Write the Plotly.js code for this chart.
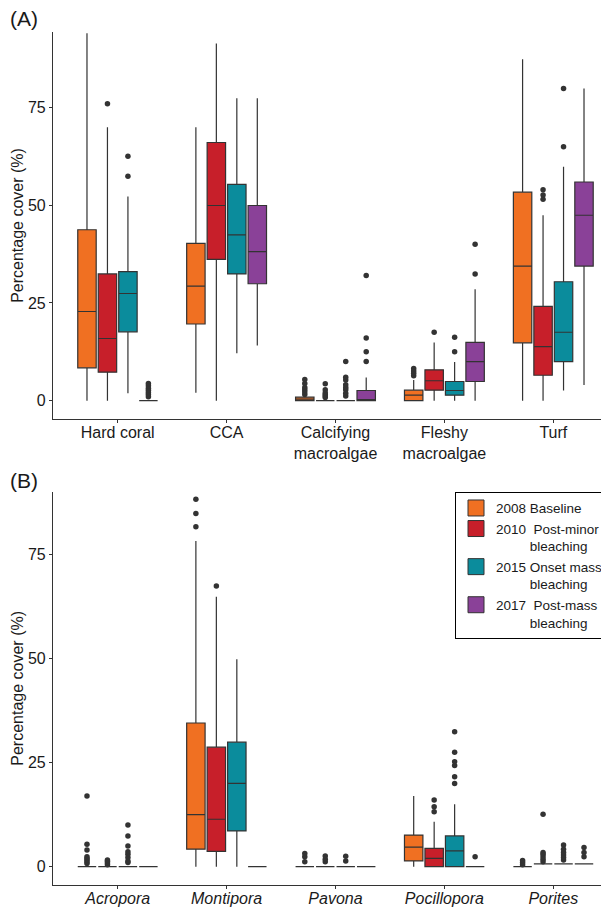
<!DOCTYPE html>
<html>
<head>
<meta charset="utf-8">
<script src="https://cdn.plot.ly/plotly-3.0.1.min.js"></script>
<style>
  html, body { margin: 0; padding: 0; background: #ffffff; }
  #chart { width: 601px; height: 908px; }
</style>
</head>
<body>
<div id="chart"></div>
<script>
// ---------- categories & series ----------
const yearNames = [
  '2008 Baseline',
  '2010\u00a0\u00a0Post-minor<br>\u00a0\u00a0\u00a0\u00a0\u00a0\u00a0\u00a0\u00a0\u00a0bleaching',
  '2015 Onset mass<br>\u00a0\u00a0\u00a0\u00a0\u00a0\u00a0\u00a0\u00a0\u00a0bleaching',
  '2017\u00a0\u00a0Post-mass<br>\u00a0\u00a0\u00a0\u00a0\u00a0\u00a0\u00a0\u00a0\u00a0bleaching'
];
const yearColors = ['#F07022', '#C71F2A', '#0B8C9C', '#8A4198'];

const catsA = ['Hard coral', 'CCA', 'Calcifying<br>macroalgae', 'Fleshy<br>macroalgae', 'Turf'];
const catsB = ['Acropora', 'Montipora', 'Pavona', 'Pocillopora', 'Porites'];
const tickTextB = catsB.map(c => '<i>' + c + '</i>');
const yTicks = [0, 25, 50, 75];

// Panel A stats, one row per year (2008, 2010, 2015, 2017), one value per category
const A_lower = [
  [0, 2.0, 0, 0, 0],
  [0, 0, 0, 0, 0],
  [1.9, 12.1, 0, 0, 2.6],
  [0, 14.1, 0, 0, 4.0]
];
const A_q1 = [
  [8.4, 19.6, 0, 0, 14.8],
  [7.3, 36.1, 0, 2.7, 6.5],
  [17.6, 32.4, 0, 1.4, 10.0],
  [0, 29.9, 0, 4.9, 34.4]
];
const A_median = [
  [22.8, 29.3, 0.4, 1.4, 34.4],
  [15.9, 49.9, 0, 5.1, 13.8],
  [27.4, 42.4, 0, 2.6, 17.5],
  [0, 38.1, 0, 10.0, 47.4]
];
const A_q3 = [
  [43.7, 40.2, 0.9, 2.7, 53.3],
  [32.4, 66.0, 0, 7.9, 24.1],
  [33.0, 55.3, 0, 4.9, 30.4],
  [0, 49.9, 2.6, 14.9, 55.9]
];
const A_upper = [
  [93.9, 69.9, 1.2, 5.3, 87.3],
  [69.9, 91.3, 0, 14.9, 47.4],
  [52.2, 77.3, 0, 9.9, 59.8],
  [0, 77.3, 5.9, 28.5, 79.8]
];
const A_outliers = [
  [[], [], [1.6, 2.2, 2.8, 3.4, 4.4, 5.4], [6.4, 7.0, 7.6, 8.2], []],
  [[75.9], [], [0.8, 1.2, 1.6, 2.0, 2.8, 4.3], [17.5], [51.5, 52.6, 53.9]],
  [[57.4, 62.5], [], [1.2, 1.9, 2.8, 3.4, 4.1, 5.3, 6.0, 10.0], [12.5, 16.2], [64.9, 79.8]],
  [[1.0, 1.6, 2.1, 2.7, 3.2, 3.8, 4.4], [], [10.0, 12.5, 16.0, 32.0], [32.4, 40.0], []]
];

// Panel B stats
const B_lower = [
  [0, 0, 0, 0, 0],
  [0, 0, 0, 0, 0.7],
  [0, 0, 0, 0, 0.7],
  [0, 0, 0, 0, 0.7]
];
const B_q1 = [
  [0, 4.2, 0, 1.4, 0],
  [0, 3.7, 0, 0, 0.7],
  [0, 8.6, 0, 0, 0.7],
  [0, 0, 0, 0, 0.7]
];
const B_median = [
  [0, 12.5, 0, 4.7, 0],
  [0, 11.4, 0, 2.0, 0.7],
  [0, 20.0, 0, 3.8, 0.7],
  [0, 0, 0, 0, 0.7]
];
const B_q3 = [
  [0, 34.5, 0, 7.6, 0],
  [0, 28.7, 0, 4.4, 0.7],
  [0, 29.9, 0, 7.4, 0.7],
  [0, 0, 0, 0, 0.7]
];
const B_upper = [
  [0, 78.2, 0, 17.0, 0],
  [0, 64.8, 0, 10.8, 0.7],
  [0, 49.8, 0, 15.0, 0.7],
  [0, 0, 0, 0, 0.7]
];
const B_outliers = [
  [[0.8, 1.2, 1.6, 2.0, 2.4, 4.0, 5.4, 17.0], [81.6, 84.8, 88.2], [1.2, 2.4, 3.2], [], [0.5, 1.0, 1.5]],
  [[0.5, 0.9, 1.3, 1.6], [67.4], [1.2, 1.8, 2.6], [13.2, 14.4, 16.0], [1.2, 1.8, 2.4, 3.0, 3.4, 12.6]],
  [[1.0, 1.4, 2.2, 3.0, 3.6, 5.0, 7.4, 10.0], [], [1.4, 2.5], [20.0, 21.6, 24.3, 25.2, 27.5, 32.4], [1.6, 2.2, 2.8, 3.4, 4.2, 5.2]],
  [[], [], [], [2.4], [2.4, 3.4, 4.6]]
];

// ---------- build traces ----------
const FONT = 'Liberation Sans, Arial, Helvetica, sans-serif';
const traces = [];

// an empty outlier list is passed as [null] so Plotly keeps the 2-D sample layout
function samples(list) { return list.map(l => (l.length ? l : [null])); }

function addPanel(cats, lower, q1, med, q3, upper, outs, xa, ya) {
  for (let k = 0; k < 4; k++) {
    traces.push({
      type: 'box',
      orientation: 'v',
      name: yearNames[k],
      x: cats,
      y: samples(outs[k]),
      q1: q1[k],
      median: med[k],
      q3: q3[k],
      lowerfence: lower[k],
      upperfence: upper[k],
      boxpoints: 'outliers',
      pointpos: 0,
      jitter: 0,
      whiskerwidth: 0,
      fillcolor: yearColors[k],
      line: { color: '#333333', width: 1.2 },
      marker: { color: '#333333', size: 5.5, line: { width: 0 } },
      offsetgroup: 'g' + k,
      showlegend: false,
      hoverinfo: 'y',
      xaxis: xa,
      yaxis: ya
    });
  }
}
addPanel(catsA, A_lower, A_q1, A_median, A_q3, A_upper, A_outliers, 'x', 'y');
addPanel(catsB, B_lower, B_q1, B_median, B_q3, B_upper, B_outliers, 'x2', 'y2');

// legend entries (square keys)
for (let k = 0; k < 4; k++) {
  traces.push({
    type: 'scatter',
    mode: 'markers',
    name: yearNames[k],
    x: [null],
    y: [null],
    marker: { symbol: 'square', size: 16, color: yearColors[k], line: { color: '#333333', width: 1 } },
    showlegend: true,
    hoverinfo: 'skip',
    xaxis: 'x2',
    yaxis: 'y2'
  });
}

// ---------- layout ----------
const W = 601, H = 908, L = 53;
const axisCommon = {
  showline: true,
  linecolor: '#333333',
  linewidth: 1.1,
  ticks: 'outside',
  ticklen: 3,
  tickwidth: 1.1,
  tickcolor: '#333333',
  showgrid: false,
  zeroline: false,
  tickfont: { family: FONT, size: 16, color: '#1a1a1a' }
};
const xRange = [-0.594, 4.438];
const yTitle = { text: 'Percentage cover (%)', font: { family: FONT, size: 16, color: '#1a1a1a' }, standoff: 0 };

const layout = {
  width: W,
  height: H,
  margin: { l: L, r: 0, t: 0, b: 0, pad: 0, autoexpand: false },
  paper_bgcolor: '#ffffff',
  plot_bgcolor: '#ffffff',
  font: { family: FONT, color: '#1a1a1a' },
  boxmode: 'group',
  boxgap: 0.248,
  boxgroupgap: 0.1,
  xaxis: Object.assign({}, axisCommon, {
    type: 'category',
    categoryorder: 'array',
    categoryarray: catsA,
    range: xRange,
    domain: [0, 1],
    anchor: 'y',
    ticklabelstandoff: -4
  }),
  yaxis: Object.assign({}, axisCommon, {
    range: [-4.68, 94.25],
    domain: [1 - 419 / H, 1 - 32 / H],
    tickvals: yTicks,
    anchor: 'x',
    automargin: true,
    title: yTitle
  }),
  xaxis2: Object.assign({}, axisCommon, {
    type: 'category',
    categoryorder: 'array',
    categoryarray: catsB,
    tickvals: catsB,
    ticktext: tickTextB,
    range: xRange,
    domain: [0, 1],
    anchor: 'y2',
    ticklabelstandoff: -4
  }),
  yaxis2: Object.assign({}, axisCommon, {
    range: [-4.39, 90.03],
    domain: [1 - 885 / H, 1 - 491.7 / H],
    tickvals: yTicks,
    anchor: 'x2',
    automargin: true,
    title: yTitle
  }),
  showlegend: true,
  legend: {
    x: (455 - L) / (W - L),
    xanchor: 'left',
    y: 1 - 491.7 / H,
    yanchor: 'top',
    bgcolor: '#ffffff',
    bordercolor: '#000000',
    borderwidth: 1,
    font: { family: FONT, size: 13.5, color: '#1a1a1a' },
    valign: 'top',
    itemwidth: 30,
    tracegroupgap: 0
  },
  annotations: [
    { text: '(A)', xref: 'paper', yref: 'paper', x: (8 - L) / (W - L), y: 1 - 19 / H,
      xanchor: 'left', yanchor: 'middle', showarrow: false, font: { family: FONT, size: 21, color: '#1a1a1a' } },
    { text: '(B)', xref: 'paper', yref: 'paper', x: (8 - L) / (W - L), y: 1 - 481 / H,
      xanchor: 'left', yanchor: 'middle', showarrow: false, font: { family: FONT, size: 21, color: '#1a1a1a' } }
  ]
};

Plotly.newPlot('chart', traces, layout, { displayModeBar: false, staticPlot: true });
</script>
</body>
</html>
